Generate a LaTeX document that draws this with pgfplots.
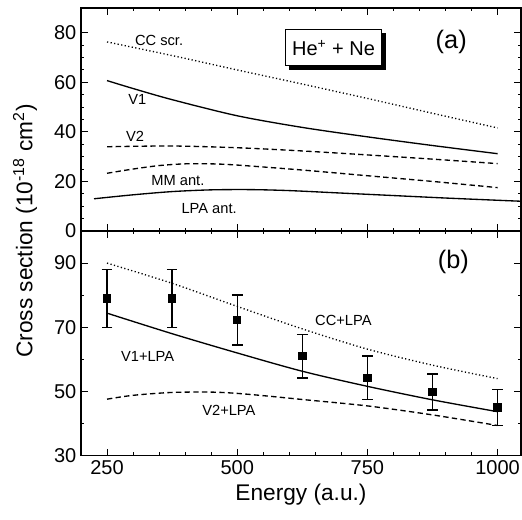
\documentclass[border=0pt]{standalone}
\usepackage{fontspec}
\setmainfont{Liberation Sans}
\usepackage{pgfplots}
\pgfplotsset{compat=1.18}
\usetikzlibrary{shadows}

\pgfplotstableread{
E    s     err
250  79.0  9.0
375  79.0  9.0
500  72.3  7.8
625  61.0  6.8
750  54.2  6.8
875  49.8  5.6
1000 45.0  5.7
}\expdata

\tikzset{
  anno/.style={font=\fontsize{11}{13}\selectfont},
  dots/.style={dash pattern=on 0.9pt off 1.8pt},
  dashs/.style={dash pattern=on 4pt off 2.5pt},
}

\begin{document}
\begin{tikzpicture}
  \pgfplotsset{
    panel/.style={scale only axis, width=330pt, xmin=200, xmax=1045,
      xtick={250,500,750,1000}, minor x tick num=4,
      tick align=inside, major tick length=5pt, minor tick length=2.5pt,
      ticklabel style={font=\fontsize{15}{17}\selectfont},
      /pgf/number format/assume math mode=true,
      /pgf/number format/set thousands separator={},
      axis line style={line width=0.9pt},
      every tick/.style={line width=0.8pt,black},
      every axis plot/.append style={line width=1pt, black}},
  }
  % panel (a)
  \begin{axis}[panel, at={(60.75pt,-6pt)}, anchor=north west,
    height=167.25pt, ymin=0, ymax=90, ytick={0,20,...,80}, minor y tick num=3,
    xticklabels={}]
    \addplot[dots, smooth] coordinates {(250,76.3) (375,70.8) (500,65) (625,59.3) (750,53.5) (875,47.5) (1000,41.6)};
    \addplot[smooth] coordinates {(250,60.7) (300,57.5) (375,53) (500,46.5) (625,41.8) (750,38) (875,34.5) (1000,31.2)};
    \addplot[dashs, smooth] coordinates {(250,34) (375,34.3) (500,33.6) (625,32.3) (750,30.7) (875,29) (1000,27.2)};
    \addplot[dashs, smooth] coordinates {(250,23.3) (300,25) (350,26.4) (400,27.1) (450,27.1) (500,26.6) (625,24.6) (750,22.3) (875,20) (1000,17.5)};
    \addplot[smooth] coordinates {(225,13) (300,14.6) (375,15.9) (450,16.6) (525,16.7) (600,16.3) (700,15.3) (800,14.3) (900,13.3) (1000,12.4) (1045,12)};
    \node[anno] at (axis cs:350,77.1) {CC scr.};
    \node[anno] at (axis cs:308,52.9) {V1};
    \node[anno] at (axis cs:304,38.3) {V2};
    \node[anno] at (axis cs:386,20.2) {MM ant.};
    \node[anno] at (axis cs:446,8.9) {LPA ant.};
    \node[font=\fontsize{19}{21}\selectfont] at (axis cs:911,76.4) {(a)};
    \node[draw, fill=white, line width=0.8pt, inner xsep=5pt, inner ysep=8pt,
      drop shadow={shadow xshift=3pt, shadow yshift=-3pt, fill=black, opacity=1},
      font=\fontsize{15}{17}\selectfont] at (axis cs:685,74) {He\textsuperscript{+} + Ne};
  \end{axis}
  % panel (b)
  \begin{axis}[panel, at={(60.75pt,-173.25pt)}, anchor=north west,
    height=168.5pt, ymin=30, ymax=100, ytick={30,50,70,90}, minor y tick num=1,
    xlabel={Energy (a.u.)},
    xlabel style={font=\fontsize{17}{19}\selectfont}]
    \addplot[dots, smooth] coordinates {(250,90) (375,83.7) (500,76.5) (625,69.5) (750,63.2) (875,58.2) (1000,54)};
    \addplot[smooth] coordinates {(250,74.4) (375,68) (500,62) (625,56.3) (750,51.6) (875,47.4) (1000,43.7)};
    \addplot[dashs, smooth] coordinates {(250,47.6) (300,48.8) (375,49.7) (450,49.8) (500,49.4) (563,48.5) (625,47.5) (750,45.5) (875,42.7) (1000,39.4)};
    \addplot[only marks, mark=square*, mark size=2.7pt,
      error bars/.cd, y dir=both, y explicit,
      error bar style={line width=1pt},
      error mark options={rotate=90, mark size=4pt, line width=1pt}]
      table[x=E, y=s, y error=err] {\expdata};
    \node[anno] at (axis cs:704,72) {CC+LPA};
    \node[anno] at (axis cs:328,60.9) {V1+LPA};
    \node[anno] at (axis cs:484,44) {V2+LPA};
    \node[font=\fontsize{19}{21}\selectfont] at (axis cs:915,90.4) {(b)};
  \end{axis}
  \node[rotate=90, font=\fontsize{17}{19}\selectfont] at (18.75pt,-173.25pt)
    {Cross section (10\textsuperscript{-18} cm\textsuperscript{2})};
  \pgfresetboundingbox
  \path[use as bounding box] (0,0) rectangle (391.5pt,-390pt);
\end{tikzpicture}
\end{document}
